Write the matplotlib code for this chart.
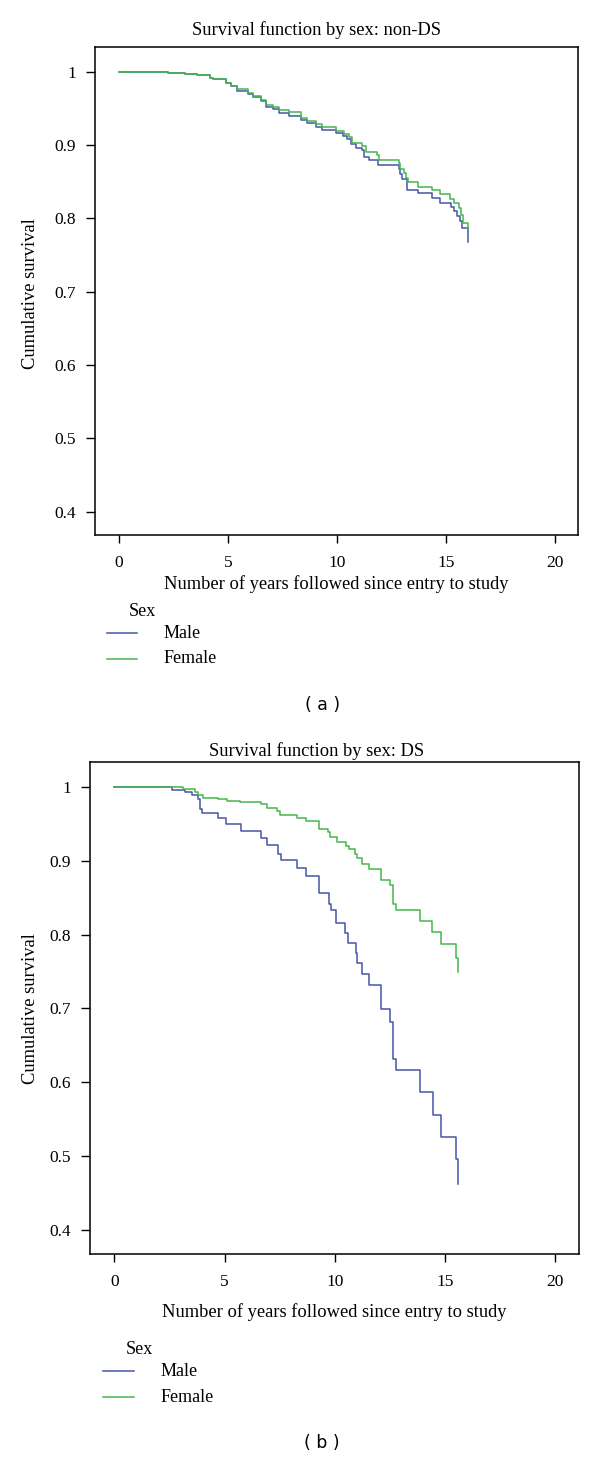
import matplotlib
matplotlib.use("Agg")
import matplotlib.pyplot as plt
from matplotlib.lines import Line2D

# ---------------- data ----------------
xticks = [0, 5, 10, 15, 20]
yticks = [0.4, 0.5, 0.6, 0.7, 0.8, 0.9, 1.0]
ytick_labels = ["0.4", "0.5", "0.6", "0.7", "0.8", "0.9", "1"]
legend_title = "Sex"
series_names = ["Male", "Female"]

# Panel (a): non-DS
a_male_t = [0, 2.23, 3.04, 3.56, 4.19, 4.29, 4.9, 5.13, 5.4, 5.9, 6.15, 6.5, 6.73, 7.04,
            7.34, 7.8, 8.33, 8.64, 9.02, 9.32, 9.93, 10.28, 10.47, 10.62, 10.85, 11.15,
            11.26, 11.46, 11.89, 12.83, 12.9, 13.0, 13.2, 13.72, 14.36, 14.74, 15.25,
            15.35, 15.5, 15.65, 15.73, 16.0]
a_male_s = [1, 0.9988, 0.9969, 0.9955, 0.992, 0.9905, 0.984, 0.981, 0.974, 0.969, 0.965,
            0.960, 0.952, 0.9496, 0.944, 0.940, 0.9336, 0.9295, 0.925, 0.921, 0.916, 0.912,
            0.9076, 0.9017, 0.8963, 0.893, 0.884, 0.880, 0.8725, 0.8676, 0.860, 0.853,
            0.8393, 0.8348, 0.828, 0.821, 0.8157, 0.810, 0.8038, 0.796, 0.787, 0.768]
a_female_t = [0, 2.23, 3.04, 3.56, 4.19, 4.29, 4.9, 5.13, 5.4, 5.9, 6.15, 6.5, 6.73, 7.04,
              7.34, 7.8, 8.33, 8.64, 9.02, 9.32, 9.93, 10.32, 10.54, 10.7, 11.15, 11.31,
              11.84, 11.92, 12.83, 12.9, 13.06, 13.17, 13.24, 13.72, 14.36, 14.74, 15.2,
              15.35, 15.58, 15.7, 15.8, 16.0]
a_female_s = [1, 0.9988, 0.9969, 0.9955, 0.992, 0.9905, 0.984, 0.981, 0.976, 0.9714, 0.967,
              0.962, 0.955, 0.952, 0.9477, 0.945, 0.937, 0.9327, 0.928, 0.9245, 0.919,
              0.9154, 0.911, 0.903, 0.8985, 0.890, 0.887, 0.879, 0.8757, 0.8676, 0.862,
              0.855, 0.849, 0.843, 0.8384, 0.8335, 0.827, 0.821, 0.814, 0.805, 0.794, 0.785]

# Panel (b): DS
b_male_t = [0, 2.60, 3.21, 3.51, 3.77, 3.86, 3.96, 4.69, 5.07, 5.73, 6.66, 6.94, 7.41, 7.56,
            8.30, 8.68, 9.27, 9.30, 9.73, 9.82, 10.06, 10.47, 10.58, 10.97, 11.0, 11.23,
            11.54, 12.10, 12.48, 12.63, 12.66, 12.78, 13.87, 14.46, 14.83, 15.49, 15.6]
b_male_s = [1, 0.9964, 0.994, 0.989, 0.984, 0.971, 0.965, 0.958, 0.950, 0.941, 0.931, 0.922,
            0.910, 0.901, 0.890, 0.880, 0.868, 0.856, 0.842, 0.833, 0.816, 0.802, 0.789,
            0.775, 0.761, 0.747, 0.732, 0.699, 0.682, 0.666, 0.632, 0.617, 0.587, 0.556,
            0.526, 0.496, 0.462]
b_female_t = [0, 3.13, 3.66, 3.81, 4.04, 4.72, 5.10, 5.70, 6.66, 6.94, 7.37, 7.52, 8.30, 8.68,
              9.26, 9.30, 9.71, 9.79, 10.09, 10.50, 10.62, 10.92, 11.0, 11.23, 11.57, 12.10,
              12.48, 12.62, 12.66, 12.78, 13.87, 14.42, 14.81, 15.51, 15.61]
b_female_s = [1, 0.998, 0.993, 0.990, 0.986, 0.984, 0.982, 0.980, 0.977, 0.972, 0.968, 0.963,
              0.958, 0.954, 0.949, 0.944, 0.939, 0.933, 0.926, 0.921, 0.916, 0.910, 0.904,
              0.896, 0.889, 0.874, 0.867, 0.856, 0.842, 0.834, 0.819, 0.803, 0.787, 0.769,
              0.750]

titles = ["Survival function by sex: non-DS", "Survival function by sex: DS"]
xlabel = "Number of years followed since entry to study"
ylabel = "Cumulative survival"
panel_tags = ["( a )", "( b )"]

# ---------------- style ----------------
W, H = 600, 1458
DPI = 100
BLUE = "#4456a8"
GREEN = "#45b64d"
SERIF = ["Liberation Serif", "DejaVu Serif"]
FS_LAB = 13.3
FS_TICK = 12.5
FS_LEG = 13

fig = plt.figure(figsize=(W / DPI, H / DPI), dpi=DPI)
fig.patch.set_facecolor("white")


def fx(px):
    return px / W


def fy(py):
    return 1 - py / H


panels = [
    dict(box=(95, 578, 47.3, 535), ylim=(0.368, 1.0333), title=(317, 30), tick_y=562,
         xlabel_y=584, ylabel=(30.6, 294), sex=(129, 612), line=(107, 137),
         txt_x=164, rows=(633, 659), tag=(323, 705),
         data=[(a_male_t, a_male_s), (a_female_t, a_female_s)]),
    dict(box=(90, 578.6, 762.3, 1254), ylim=(0.3668, 1.0339), title=(316.7, 751),
         tick_y=1283, xlabel_y=1312, ylabel=(30.6, 1009), sex=(125.4, 1350),
         line=(103, 134), txt_x=160.6, rows=(1371, 1397), tag=(322, 1443),
         data=[(b_male_t, b_male_s), (b_female_t, b_female_s)]),
]

colors = [BLUE, GREEN]

for i, p in enumerate(panels):
    l, r, t, b = p["box"]
    ax = fig.add_axes([fx(l), fy(b), fx(r) - fx(l), (b - t) / H])
    for (tt, ss), c in zip(p["data"], colors):
        ax.step(tt, ss, where="post", color=c, lw=1.1)
    ax.set_xlim(-1.11, 21.06)
    ax.set_ylim(*p["ylim"])
    ax.set_xticks(xticks)
    ax.set_xticklabels([str(v) for v in xticks])
    ax.set_yticks(yticks)
    ax.set_yticklabels(ytick_labels)
    ax.tick_params(axis="y", direction="out", length=6.5, width=1.0,
                   labelsize=FS_TICK, pad=7)
    ax.tick_params(axis="x", direction="out", length=6.0, width=1.0,
                   labelsize=FS_TICK, pad=8.5)
    for lab in ax.get_xticklabels() + ax.get_yticklabels():
        lab.set_family(SERIF)
    for sp in ax.spines.values():
        sp.set_linewidth(1.1)
    # title and labels
    fig.text(fx(p["title"][0]), fy(p["title"][1]), titles[i], ha="center", va="center",
             family=SERIF, fontsize=FS_LAB)
    fig.text(fx((l + r) / 2), fy(p["xlabel_y"]), xlabel, ha="center", va="center",
             family=SERIF, fontsize=FS_LAB)
    fig.text(fx(p["ylabel"][0]), fy(p["ylabel"][1]), ylabel, ha="center", va="center",
             rotation=90, family=SERIF, fontsize=FS_LAB)
    # legend
    fig.text(fx(p["sex"][0]), fy(p["sex"][1]), legend_title, ha="left", va="center",
             family=SERIF, fontsize=FS_LEG)
    for name, c, ry in zip(series_names, colors, p["rows"]):
        fig.add_artist(Line2D([fx(p["line"][0]), fx(p["line"][1])], [fy(ry), fy(ry)],
                              color=c, lw=1.1, transform=fig.transFigure))
        fig.text(fx(p["txt_x"]), fy(ry), name, ha="left", va="center",
                 family=SERIF, fontsize=FS_LEG)
    fig.text(fx(p["tag"][0]), fy(p["tag"][1]), panel_tags[i], ha="center", va="center",
             family=["DejaVu Sans"], fontsize=12.5)

fig.savefig("out.png", dpi=DPI, facecolor="white")
